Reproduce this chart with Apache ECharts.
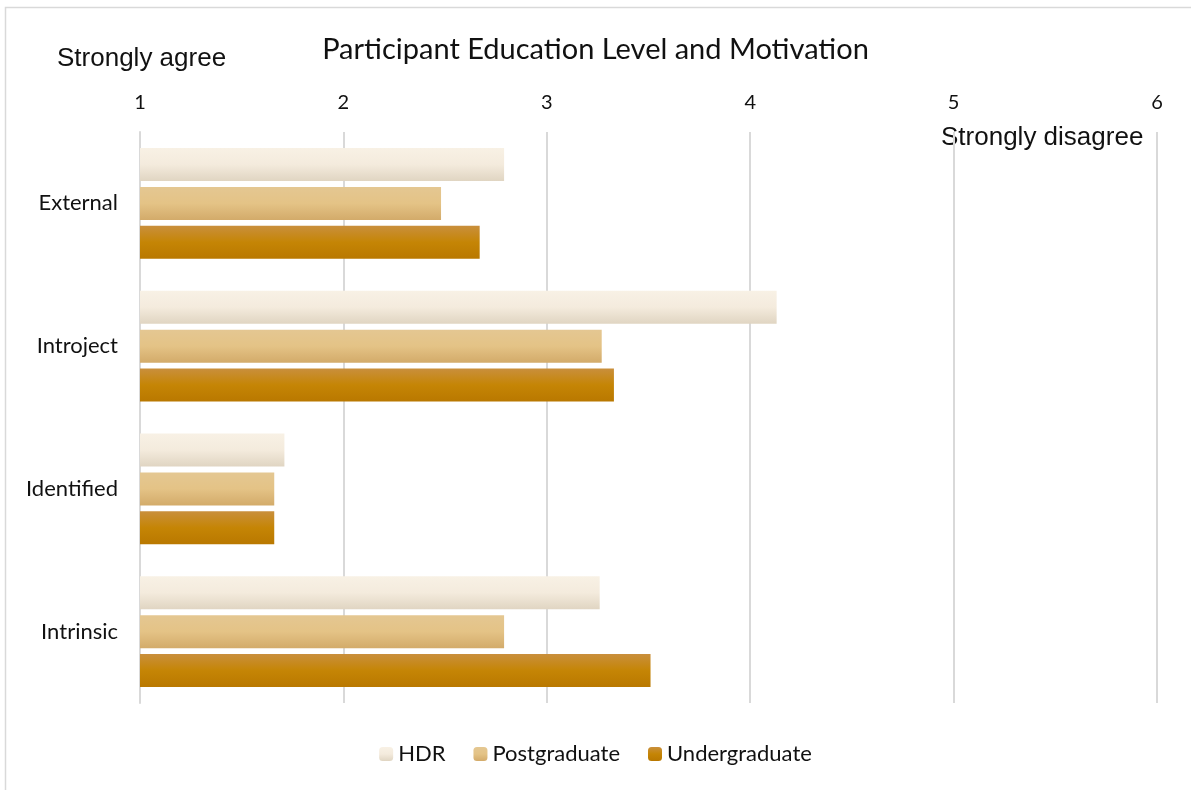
<!DOCTYPE html>
<html><head><meta charset="utf-8">
<script src="https://cdn.jsdelivr.net/npm/echarts@6/dist/echarts.min.js"></script>
<style>html,body{margin:0;padding:0;background:#fff}#c{width:1191px;height:790px}</style>
</head><body><div id="c"></div>
<script>
const categories = ['External', 'Introject', 'Identified', 'Intrinsic'];
const hdr = [2.79, 4.13, 1.71, 3.26];
const postgraduate = [2.48, 3.27, 1.66, 2.79];
const undergraduate = [2.67, 3.33, 1.66, 3.51];
const seriesNames = ['HDR', 'Postgraduate', 'Undergraduate'];

const FONT = 'Lato, "Open Sans", sans-serif';
function grad(stops){return new echarts.graphic.LinearGradient(0,0,0,1,stops.map((c,i)=>({offset:c[0],color:c[1]})));}
const fills = [
  grad([[0,'#f8f1e5'],[0.5,'#f4ebdd'],[1,'#e0d5c2']]),
  grad([[0,'#e4c792'],[0.5,'#e4c386'],[1,'#d3ab6a']]),
  grad([[0,'#c98f3c'],[0.5,'#c58505'],[1,'#b97800']])
];
const chart = echarts.init(document.getElementById('c'));
chart.setOption({
  animation:false,
  backgroundColor:'#fff',
  title:{text:'Participant Education Level and Motivation',left:'center',top:30,
    textStyle:{fontFamily:FONT,fontSize:29,fontWeight:'normal',color:'#111'}},
  graphic:[
    {type:'rect',shape:{x:5.5,y:7.5,width:1300,height:900},style:{fill:null,stroke:'#d9d9d9',lineWidth:1.5},silent:true},
    {type:'text',left:57,top:46,style:{text:'Strongly agree',font:'26px "Liberation Sans", Arial, sans-serif',fill:'#111'}},
    {type:'text',left:941,top:125,style:{text:'Strongly disagree',font:'26px "Liberation Sans", Arial, sans-serif',fill:'#111'}}
  ],
  legend:{bottom:20,left:'center',itemWidth:14,itemHeight:14,itemGap:28,
    textStyle:{fontFamily:FONT,fontSize:22,color:'#111'},data:seriesNames},
  grid:{left:140,right:34,top:132,bottom:87,containLabel:false},
  xAxis:{type:'value',position:'top',min:1,max:6,interval:1,
    axisLine:{show:false},axisTick:{show:false},
    axisLabel:{fontFamily:FONT,fontSize:20,color:'#111',margin:19},
    splitLine:{lineStyle:{color:'#d9d9d9',width:2}}},
  yAxis:{type:'category',data:categories,inverse:true,
    axisLine:{lineStyle:{color:'#d9d9d9',width:2}},axisTick:{show:false},
    axisLabel:{fontFamily:FONT,fontSize:22,color:'#111',margin:22}},
  series:[hdr,postgraduate,undergraduate].map((d,i)=>({
    name:seriesNames[i],type:'bar',data:d,barWidth:33,barGap:'18%',
    itemStyle:{color:fills[i]}
  }))
});
</script></body></html>
